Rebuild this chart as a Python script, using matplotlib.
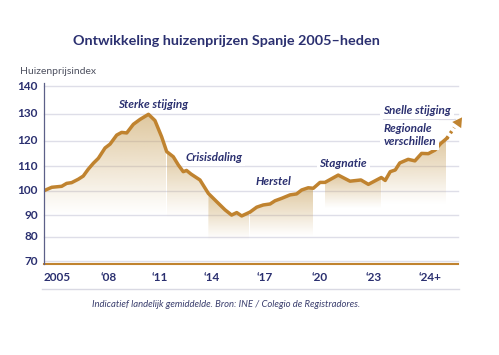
import io
import numpy as np
import matplotlib
matplotlib.use("Agg")
import matplotlib.pyplot as plt
from matplotlib.lines import Line2D

# ---------------- data ----------------
years = [2005.00, 2005.36, 2005.82, 2006.05, 2006.28, 2006.59, 2006.82, 2007.05,
         2007.29, 2007.52, 2007.83, 2008.08, 2008.47, 2008.76, 2009.06, 2009.45,
         2009.84, 2010.34, 2010.72, 2011.11, 2011.40, 2011.78, 2012.07, 2012.35,
         2012.54, 2012.80, 2013.31, 2013.79, 2014.27, 2014.74, 2015.11, 2015.40,
         2015.68, 2016.15, 2016.53, 2016.90, 2017.28, 2017.55, 2017.92, 2018.38,
         2018.74, 2019.02, 2019.38, 2019.66, 2020.03, 2020.30, 2021.03, 2021.68,
         2022.28, 2022.69, 2023.13, 2023.20, 2023.29, 2023.38, 2023.46, 2023.61,
         2023.73, 2023.85, 2023.97, 2024.09, 2024.19, 2024.30]
index = [100.0, 101.4, 101.8, 103.0, 103.3, 104.7, 106.0, 108.8,
         111.2, 113.1, 117.1, 118.6, 122.0, 123.0, 122.8, 126.0,
         127.8, 129.7, 127.4, 121.4, 115.7, 113.7, 110.5, 107.8,
         108.3, 106.8, 104.4, 98.9, 95.5, 92.2, 90.1, 91.1,
         89.7, 91.3, 93.3, 94.2, 94.6, 95.9, 96.9, 98.3,
         98.7, 100.3, 101.2, 101.0, 103.4, 103.4, 106.4, 103.9,
         104.4, 102.6, 105.4, 104.2, 107.8, 108.5, 111.3, 112.7,
         112.1, 115.0, 114.9, 116.3, 118.8, 120.8]

# shaded phases (start year, end year)
phase_spans = [(2005.00, 2011.40), (2011.40, 2013.79), (2013.79, 2016.15),
               (2016.15, 2019.66), (2020.30, 2023.13), (2023.13, 2024.30)]

arrow_tip_year = 2024.54
arrow_tip_value = 128.0

tick_years = [2005, 2008, 2011, 2014, 2017, 2020, 2023, 2024]
tick_labels = ["2005", "\u201808", "\u201811", "\u201814", "\u201817", "\u201820",
               "\u201823", "\u201824+"]
y_ticks = [70, 80, 90, 100, 110, 120, 130, 140]

title = "Ontwikkeling huizenprijzen Spanje 2005\u2013heden"
ylabel = "Huizenprijsindex"
caption = "Indicatief landelijk gemiddelde. Bron: INE / Colegio de Registradores."
phase_texts = ["Sterke stijging", "Crisisdaling", "Herstel", "Stagnatie",
               "Snelle stijging", "Regionale\nverschillen"]

# ---------------- style / layout ----------------
W, H = 499, 355
NAVY = "#2b3070"
GOLD = "#c0832f"
FILL_RGB = matplotlib.colors.to_rgb("#c9a25e")
GRID = "#dedee8"
plt.rcParams["font.family"] = ["Lato", "DejaVu Sans"]

# uneven axis spacing of the reference, as function scales
YR_REF = np.array([2004, 2005, 2008, 2011, 2014, 2017, 2020, 2023, 2024, 2025.0])
X_PX = np.array([22.4, 44, 108.7, 159.7, 212, 265, 319.5, 374, 430, 486.0])
V_REF = np.array([50, 60, 70, 80, 90, 100, 110, 120, 130, 140, 150, 160.0])
Y_PX = np.array([309.6, 285.3, 261, 236.7, 215.3, 190.7, 166.3, 140.5, 113.5, 86, 58.5, 31.0])


def fx(x):
    return np.interp(x, YR_REF, X_PX)


def fx_inv(p):
    return np.interp(p, X_PX, YR_REF)


def fy(v):
    return -np.interp(v, V_REF, Y_PX)


def fy_inv(t):
    return np.interp(-np.asarray(t), Y_PX[::-1], V_REF[::-1])


def fig_xy(px, py):
    return px / W, 1 - py / H


def build(variant):
    fig = plt.figure(figsize=(W / 100, H / 100), dpi=100)
    fig.patch.set_facecolor("white")
    ax_l, ax_r, ax_t, ax_b = 44, 458, 83, 264
    ax = fig.add_axes([ax_l / W, 1 - ax_b / H, (ax_r - ax_l) / W, (ax_b - ax_t) / H])
    ax.patch.set_visible(False)
    ax.set_xscale("function", functions=(fx, fx_inv))
    ax.set_yscale("function", functions=(fy, fy_inv))
    ax.set_xlim(2005, float(fx_inv(ax_r)))
    ax.set_ylim(float(fy_inv(-ax_b)), float(fy_inv(-ax_t)))
    ax.set_yticks([])
    ax.yaxis.set_minor_locator(matplotlib.ticker.NullLocator())
    ax.xaxis.set_minor_locator(matplotlib.ticker.NullLocator())
    x = np.array(years)
    y = np.array(index)

    # gridlines and y labels, placed through the y scale but drawn on the figure
    fig.canvas.draw()
    for v in y_ticks:
        yd = ax.transData.transform((2010.0, v))[1]
        yf = fig.transFigure.inverted().transform((0, yd))[1]
        fig.add_artist(Line2D([ax_l / W, ax_r / W], [yf, yf], color=GRID, lw=1.0, zorder=-1))
        fig.text(38 / W, yf, str(v), ha="right", va="center", color=NAVY,
                 fontsize=8.5, fontweight="bold")

    # gradient fills per phase
    for (s, e) in phase_spans:
        m = (x >= s - 1e-6) & (x <= e + 1e-6)
        xs, ys = x[m], y[m]
        v_top = ys.max()
        v_bot = float(fy_inv(fy(ys.min()) - 25))
        poly = ax.fill_between(xs, ys, v_bot, facecolor="none", edgecolor="none", lw=0)
        n = 128
        t = np.linspace(0, 1, n)[:, None]
        rgba = np.zeros((n, 1, 4))
        rgba[..., :3] = FILL_RGB
        rgba[..., 3] = 0.6 * (1 - t) ** 1.1
        im = ax.imshow(rgba, extent=(s, e, v_bot, v_top), origin="upper", aspect="auto",
                       interpolation=("bilinear" if variant < 3 else "antialiased"), zorder=1)
        im.set_clip_path(poly.get_paths()[0], poly.get_transform())

    ax.plot(x, y, color=GOLD, lw=2.5, zorder=4)

    # dotted continuation + arrow head
    mid_x = years[-1] + 0.55 * (arrow_tip_year - years[-1])
    mid_y = index[-1] + 0.55 * (arrow_tip_value - index[-1])
    ax.plot([years[-1], mid_x], [index[-1], mid_y], color=GOLD, lw=2.5,
            ls=(0, (0.7, 1.1)), zorder=4, clip_on=(variant >= 3))
    if variant < 4:
        p0 = ax.transData.transform((mid_x, mid_y))
        p1 = ax.transData.transform((arrow_tip_year, arrow_tip_value))
        ang = np.degrees(np.arctan2(p1[1] - p0[1], p1[0] - p0[0])) - 90
        ax.plot([arrow_tip_year - 0.35 * (arrow_tip_year - mid_x)],
                [arrow_tip_value - 0.35 * (arrow_tip_value - mid_y)],
                marker=(3, 0, ang), ms=9, color=GOLD, mew=0, zorder=5, clip_on=False)

    # x axis labels
    if variant < 2:
        ax.set_xticks(tick_years)
        ax.set_xticklabels(tick_labels)
        ax.tick_params(axis="x", length=0, colors=NAVY, labelsize=8.5, pad=6)
        for lab in ax.get_xticklabels():
            lab.set_fontweight("bold")
            lab.set_color(NAVY)
        ax.get_xticklabels()[0].set_horizontalalignment("left")
    else:
        ax.set_xticks([])
        for i, (yr, lab) in enumerate(zip(tick_years, tick_labels)):
            ax.text(yr, -12.7 / (ax_b - ax_t), lab, transform=ax.get_xaxis_transform(),
                    ha=("left" if i == 0 else "center"), va="center", color=NAVY,
                    fontsize=8.5, fontweight="bold")

    # axis lines
    for sp in ax.spines.values():
        sp.set_visible(False)
    fig.add_artist(Line2D([ax_l / W, ax_r / W], [1 - ax_b / H] * 2, color=GOLD, lw=1.5))
    fig.add_artist(Line2D([ax_l / W, ax_l / W], [1 - ax_b / H, 1 - ax_t / H],
                          color="#5c6088", lw=0.9))

    # separators
    fig.add_artist(Line2D([42 / W, 459 / W], [1 - 289.3 / H] * 2, color="#d9d9e3", lw=1.0))
    fig.add_artist(Line2D([383 / W, 455 / W], [1 - 118.6 / H] * 2, color="#d9d9e3", lw=0.9))

    # titles and notes
    fig.text(*fig_xy(226.5, 41), title, ha="center", va="center", color=NAVY,
             fontsize=10.4, fontweight="bold")
    fig.text(*fig_xy(20, 71), ylabel, ha="left", va="center", color="#4e5160", fontsize=7.5)
    fig.text(*fig_xy(92.3, 304.3), caption, ha="left", va="center", color="#3b3f6e",
             fontsize=6.8, style="italic")

    # phase labels (white box interrupts the gridlines)
    label_pos = [(152.8, 104, "center"), (214, 157.3, "center"), (273.3, 181.7, "center"),
                 (343.3, 163.3, "center"), (417, 110.7, "center"), (383.3, 135, "left")]
    for txt, (px, py, ha) in zip(phase_texts, label_pos):
        fig.text(*fig_xy(px, py), txt, ha=ha, va="center", color=NAVY, fontsize=8.5,
                 style="italic", fontweight="bold", linespacing=1.15,
                 bbox=dict(facecolor="white", edgecolor="none", pad=2.0))
    return fig


def label80_ok(fig):
    buf = io.BytesIO()
    fig.savefig(buf, format="png", dpi=100, facecolor="white")
    buf.seek(0)
    a = plt.imread(buf)
    return float(a[229:245, 18:40, :3].min()) < 0.5


chosen = None
for variant in [0, 2, 3, 4]:
    f = build(variant)
    if label80_ok(f):
        chosen = f
        break
    plt.close(f)
if chosen is None:
    chosen = build(2)
chosen.savefig("out.png", dpi=100, facecolor="white")
